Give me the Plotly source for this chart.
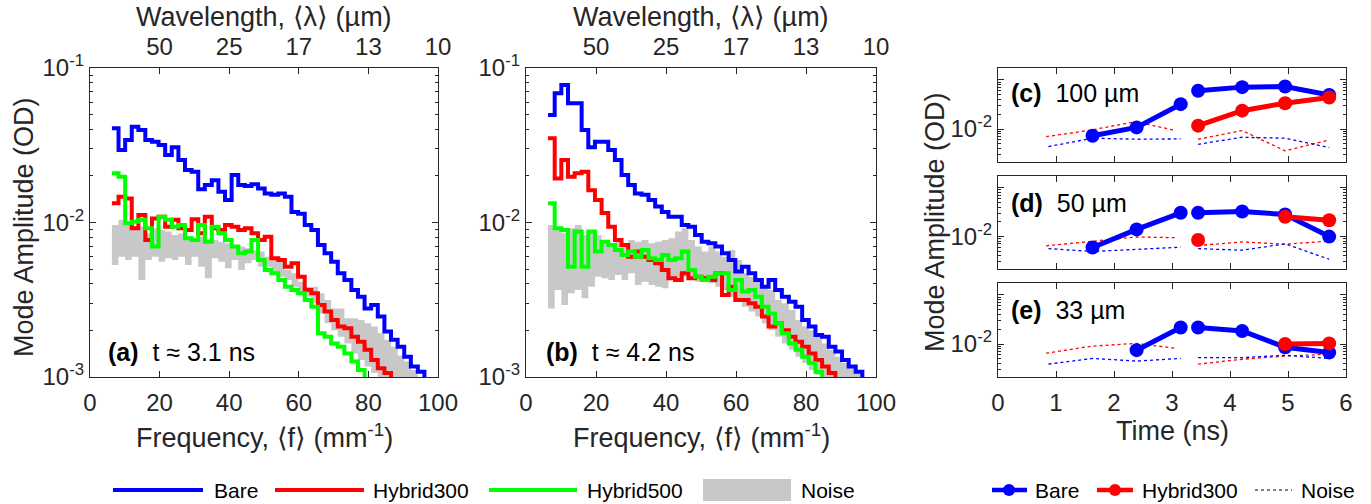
import plotly.graph_objects as go

W, H = 1371, 504
FONT = "Liberation Sans, Arial, sans-serif"
INK = "#262626"

# ---------------- data: spectra (left edges of frequency bins, mm^-1) ----------------
freq = [6.3, 8.2, 10.1, 12.0, 13.9, 15.9, 17.8, 19.7, 21.6, 23.5, 25.4, 27.3, 29.2, 31.1,
        33.0, 35.0, 36.9, 38.8, 40.7, 42.6, 44.5, 46.4, 48.3, 50.2, 52.1, 54.1, 56.0, 57.9,
        59.8, 61.7, 63.6, 65.5, 67.4, 69.3, 71.2, 73.1, 75.1, 77.0, 78.9, 80.8, 82.7, 84.6,
        86.5, 88.4, 90.3, 92.2, 94.2, 96.1, 98.0]

# panel (a), t ~ 3.1 ns
bare_a = [0.0407, 0.0295, 0.0342, 0.0417, 0.0397, 0.0342, 0.0333, 0.0317, 0.0273, 0.0307,
          0.0254, 0.0219, 0.0213, 0.0164, 0.0175, 0.0188, 0.0158, 0.0140, 0.0203, 0.0175,
          0.0172, 0.0177, 0.0166, 0.0154, 0.0151, 0.0154, 0.0147, 0.0117, 0.0114, 0.00963,
          0.00894, 0.00715, 0.00632, 0.00558, 0.00469, 0.00424, 0.00366, 0.00331, 0.00278,
          0.00292, 0.00246, 0.00197, 0.00174, 0.00157, 0.00135, 0.00117, 0.00108, 0.0008]
hyb300_a = [0.0133, 0.0147, 0.0143, 0.00917, 0.0112, 0.00770, 0.0106, 0.0109, 0.00940, 0.0104,
            0.00917, 0.00894, 0.0105, 0.00851, 0.0109, 0.00917, 0.00894, 0.00963, 0.00940,
            0.00894, 0.00917, 0.00851, 0.00770, 0.00810, 0.00586, 0.00572, 0.00518, 0.00544,
            0.00446, 0.00366, 0.00348, 0.00292, 0.00265, 0.00234, 0.00212, 0.00207, 0.00182,
            0.00169, 0.00150, 0.00129, 0.00114, 0.00106, 0.0008]
hyb500_a = [0.0208, 0.0198, 0.00988, 0.0101, 0.0104, 0.00917, 0.00698, 0.0109, 0.0104, 0.00940,
            0.00963, 0.00790, 0.00770, 0.00963, 0.00751, 0.00940, 0.00851, 0.00770, 0.00698,
            0.00632, 0.00648, 0.00770, 0.00572, 0.00493, 0.00469, 0.00424, 0.00384, 0.00366,
            0.00348, 0.00315, 0.00285, 0.00192, 0.00182, 0.00165, 0.00157, 0.00142, 0.00126,
            0.00111, 0.0008]
noise_hi_a = [0.00963, 0.0104, 0.00963, 0.00917, 0.00940, 0.00851, 0.00917, 0.00894, 0.00873,
              0.00830, 0.00851, 0.00810, 0.00770, 0.00810, 0.00751, 0.00770, 0.00751, 0.00733,
              0.00715, 0.00698, 0.00681, 0.00664, 0.00648, 0.00601, 0.00586, 0.00558, 0.00493,
              0.00469, 0.00414, 0.00384, 0.00384, 0.00348, 0.00315, 0.00278, 0.00278, 0.00240,
              0.00240, 0.00234, 0.00223, 0.00212, 0.00192, 0.00174, 0.00157, 0.00138, 0.00126,
              0.00111, 0.0008]
noise_lo_a = [0.00531, 0.00601, 0.00572, 0.00601, 0.00424, 0.00572, 0.00601, 0.00558, 0.00586,
              0.00572, 0.00601, 0.00531, 0.00601, 0.00518, 0.00435, 0.00586, 0.00558, 0.00505,
              0.00572, 0.00493, 0.00544, 0.00572, 0.00518, 0.00518, 0.00469, 0.00446, 0.00424,
              0.00384, 0.00348, 0.00331, 0.00300, 0.00258, 0.00223, 0.00201, 0.00182, 0.00165,
              0.00142, 0.00129, 0.00117, 0.00106, 0.0008]

# panel (b), t ~ 4.2 ns
bare_b = [0.0496, 0.0686, 0.0776, 0.0591, 0.0591, 0.0397, 0.0307, 0.0333, 0.0333, 0.0295,
          0.0254, 0.0203, 0.0175, 0.0154, 0.0151, 0.0140, 0.0127, 0.0117, 0.0109, 0.0109,
          0.00963, 0.00940, 0.00830, 0.00751, 0.00733, 0.00698, 0.00632, 0.00572, 0.00481,
          0.00518, 0.00469, 0.00424, 0.00384, 0.00424, 0.00366, 0.00331, 0.00307, 0.00285,
          0.00234, 0.00212, 0.00187, 0.00182, 0.00157, 0.00146, 0.00129, 0.00117, 0.00108, 0.0008]
hyb300_b = [0.0351, 0.0193, 0.0254, 0.0198, 0.0208, 0.0213, 0.0162, 0.0140, 0.0115, 0.00940,
            0.00770, 0.00715, 0.00601, 0.00648, 0.00601, 0.00572, 0.00544, 0.00493, 0.00435,
            0.00424, 0.00469, 0.00435, 0.00446, 0.00435, 0.00424, 0.00469, 0.00339, 0.00384,
            0.00315, 0.00315, 0.00300, 0.00285, 0.00246, 0.00212, 0.00223, 0.00201, 0.00182,
            0.00169, 0.00157, 0.00142, 0.00129, 0.00117, 0.00106, 0.0008]
hyb500_b = [0.0133, 0.00917, 0.00894, 0.00518, 0.00873, 0.00518, 0.00873, 0.00648, 0.00751,
            0.00715, 0.00664, 0.00616, 0.00648, 0.00601, 0.00664, 0.00586, 0.00572, 0.00616,
            0.00572, 0.00586, 0.00648, 0.00493, 0.00446, 0.00424, 0.00446, 0.00469, 0.00469,
            0.00366, 0.00424, 0.00357, 0.00366, 0.00331, 0.00285, 0.00258, 0.00223, 0.00192,
            0.00165, 0.00150, 0.00135, 0.00123, 0.00108, 0.0008]
noise_hi_b = [0.00963, 0.00940, 0.00851, 0.00917, 0.00963, 0.00830, 0.00894, 0.00830, 0.00751,
              0.00733, 0.00751, 0.00715, 0.00770, 0.00751, 0.00770, 0.00733, 0.00751, 0.00770,
              0.00790, 0.00873, 0.00917, 0.00770, 0.00698, 0.00648, 0.00698, 0.00648, 0.00601,
              0.00664, 0.00572, 0.00469, 0.00446, 0.00424, 0.00384, 0.00366, 0.00315, 0.00300,
              0.00271, 0.00234, 0.00212, 0.00201, 0.00182, 0.00165, 0.00150, 0.00135, 0.00123,
              0.00114, 0.00106, 0.0008]
noise_lo_b = [0.00278, 0.00366, 0.00292, 0.00348, 0.00366, 0.00323, 0.00384, 0.00446, 0.00435,
              0.00424, 0.00457, 0.00424, 0.00469, 0.00394, 0.00414, 0.00394, 0.00384, 0.00375,
              0.00446, 0.00424, 0.00446, 0.00424, 0.00414, 0.00414, 0.00404, 0.00384, 0.00366,
              0.00331, 0.00315, 0.00285, 0.00265, 0.00246, 0.00223, 0.00201, 0.00182, 0.00165,
              0.00150, 0.00135, 0.00123, 0.00111, 0.00103, 0.0008]

wl_tickvals = [20, 40, 60, 80, 100]
wl_ticktext = ["50", "25", "17", "13", "10"]

# ---------------- data: time histories ----------------
t_main = [1.63, 2.39, 3.15, None, 3.45, 4.21, 4.95, 5.71]
t_h300 = [3.45, 4.21, 4.95, 5.71]
t_noise_b = [0.87, 1.63, 2.39, 3.15, None, 3.45, 4.21, 4.95, 5.71]
t_noise_r = [0.83, 1.60, 2.37, 3.07, None, 3.45, 4.21, 4.95, 5.71]

bare_c = [0.0073, 0.0108, 0.032, None, 0.060, 0.071, 0.073, 0.049]
h300_c = [0.0117, 0.0236, 0.0335, 0.0437]
nb_c = [0.0044, 0.0065, 0.0062, 0.0063, None, 0.0049, 0.0068, 0.0065, 0.0042]
nr_c = [0.0070, 0.0095, 0.0141, 0.0093, None, 0.0062, 0.0093, 0.0036, 0.0060]

bare_d = [0.0059, 0.0139, 0.0305, None, 0.0305, 0.0324, 0.0281, 0.0099]
h300_d = [0.0084, None, 0.0252, 0.0215]
nb_d = [0.0056, 0.0049, 0.0054, 0.0060, None, 0.0056, 0.0052, 0.0070, 0.0034]
nr_d = [0.0064, 0.0080, 0.0097, 0.0094, None, 0.0065, 0.0077, 0.0069, 0.0080]

bare_e = [None, 0.0075, 0.0216, None, 0.0216, 0.0184, 0.0086, 0.0067]
h300_e = [None, None, 0.0100, 0.0103]
nb_e = [0.0039, 0.0051, 0.0045, 0.0051, None, 0.0053, 0.0053, 0.0059, 0.0051]
nr_e = [0.0065, 0.0090, 0.0103, 0.0082, None, 0.0039, 0.0049, 0.0057, 0.0062]

BLUE, RED, GREEN, GRAY = "#0000FF", "#FF0000", "#00FF00", "#C8C8C8"

fig = go.Figure()


def step_trace(vals, color, xa, ya, width=4):
    return go.Scatter(x=freq[:len(vals)], y=vals, mode="lines", line=dict(color=color, width=width, shape="hv"),
                      xaxis=xa, yaxis=ya, showlegend=False, hoverinfo="skip")


def noise_band(lo, hi, xa, ya):
    return [
        go.Scatter(x=freq[:len(lo)], y=lo, mode="lines", line=dict(width=0, shape="hv"),
                   xaxis=xa, yaxis=ya, showlegend=False, hoverinfo="skip"),
        go.Scatter(x=freq[:len(hi)], y=hi, mode="lines", line=dict(width=0, shape="hv"),
                   fill="tonexty", fillcolor=GRAY, xaxis=xa, yaxis=ya, showlegend=False, hoverinfo="skip"),
    ]


for xa, ya, lo, hi, b, r, g in [("x", "y", noise_lo_a, noise_hi_a, bare_a, hyb300_a, hyb500_a),
                                ("x2", "y2", noise_lo_b, noise_hi_b, bare_b, hyb300_b, hyb500_b)]:
    fig.add_traces(noise_band(lo, hi, xa, ya))
    fig.add_trace(step_trace(b, BLUE, xa, ya))
    fig.add_trace(step_trace(r, RED, xa, ya))
    fig.add_trace(step_trace(g, GREEN, xa, ya))

# dummy traces to register the top wavelength axes
fig.add_trace(go.Scatter(x=[None], y=[None], xaxis="x3", yaxis="y", showlegend=False))
fig.add_trace(go.Scatter(x=[None], y=[None], xaxis="x4", yaxis="y2", showlegend=False))

for xa, ya, b, r, nb, nr in [("x5", "y5", bare_c, h300_c, nb_c, nr_c),
                             ("x6", "y6", bare_d, h300_d, nb_d, nr_d),
                             ("x7", "y7", bare_e, h300_e, nb_e, nr_e)]:
    fig.add_trace(go.Scatter(x=t_noise_r, y=nr, mode="lines", line=dict(color=RED, width=1.3, dash="dot"),
                             xaxis=xa, yaxis=ya, showlegend=False, hoverinfo="skip"))
    fig.add_trace(go.Scatter(x=t_noise_b, y=nb, mode="lines", line=dict(color=BLUE, width=1.3, dash="dot"),
                             xaxis=xa, yaxis=ya, showlegend=False, hoverinfo="skip"))
    fig.add_trace(go.Scatter(x=t_main, y=b, mode="lines+markers", line=dict(color=BLUE, width=5),
                             marker=dict(size=14, color=BLUE), xaxis=xa, yaxis=ya, showlegend=False, hoverinfo="skip"))
    fig.add_trace(go.Scatter(x=t_h300, y=r, mode="lines+markers", line=dict(color=RED, width=5),
                             marker=dict(size=14, color=RED), xaxis=xa, yaxis=ya, showlegend=False, hoverinfo="skip"))

TICKFONT = dict(size=24, color=INK, family=FONT)
base = dict(showline=True, linecolor=INK, linewidth=1.3, ticks="inside", tickcolor=INK, ticklen=6,
            tickwidth=1, showgrid=False, zeroline=False, tickfont=TICKFONT, automargin=False)

minor_spec = [k * 10 ** e for e in (-3, -2) for k in range(2, 10)]
minor_rt = [k * 10 ** e for e in (-3, -2) for k in range(2, 10)]


def dom_x(a, b):
    return [a / W, b / W]


def dom_y(top, bot):
    return [1 - bot / H, 1 - top / H]


spec_y = dict(base, type="log", range=[-3, -1], mirror="ticks", tickvals=[1e-3, 1e-2, 1e-1],
              ticktext=["10<sup>-3</sup>", "10<sup>-2</sup>", "10<sup>-1</sup>"],
              minor=dict(tickvals=minor_spec, ticks="inside", ticklen=3, tickcolor=INK, showgrid=False))
spec_x = dict(base, range=[0, 100], mirror="ticks", tickvals=[0, 20, 40, 60, 80, 100], ticklabelstandoff=4)
top_x = dict(showline=False, showgrid=False, zeroline=False, range=[0, 100], side="top", ticks="",
             tickvals=wl_tickvals, ticktext=wl_ticktext, tickfont=TICKFONT, ticklabelstandoff=7,
             automargin=False)

rt_y = dict(base, type="log", range=[-2.67, -0.76], mirror="ticks", tickvals=[1e-2, 1e-1],
            ticktext=["10<sup>-2</sup>", ""],
            minor=dict(tickvals=minor_rt, ticks="inside", ticklen=3, tickcolor=INK, showgrid=False))
rt_x = dict(base, range=[0, 6], mirror="ticks", tickvals=[0, 1, 2, 3, 4, 5, 6], ticklabelstandoff=4)

fig.update_layout(
    template="none",
    width=W, height=504, margin=dict(l=0, r=0, t=0, b=0, pad=0, autoexpand=False),
    paper_bgcolor="white", plot_bgcolor="white", showlegend=False,
    font=dict(family=FONT, color=INK),
    xaxis=dict(spec_x, domain=dom_x(90, 438), anchor="y"),
    yaxis=dict(spec_y, domain=dom_y(68, 377), anchor="x"),
    xaxis2=dict(spec_x, domain=dom_x(526, 876), anchor="y2"),
    yaxis2=dict(spec_y, domain=dom_y(68, 377), anchor="x2"),
    xaxis3=dict(top_x, overlaying="x", anchor="y"),
    xaxis4=dict(top_x, overlaying="x2", anchor="y2"),
    xaxis5=dict(rt_x, domain=dom_x(998, 1346), anchor="y5", showticklabels=False),
    yaxis5=dict(rt_y, domain=dom_y(68, 162), anchor="x5"),
    xaxis6=dict(rt_x, domain=dom_x(998, 1346), anchor="y6", showticklabels=False),
    yaxis6=dict(rt_y, domain=dom_y(176, 269), anchor="x6"),
    xaxis7=dict(rt_x, domain=dom_x(998, 1346), anchor="y7"),
    yaxis7=dict(rt_y, domain=dom_y(283, 377), anchor="x7"),
)


def ann(text, x, y, size, xanchor="center", angle=0, color=INK):
    return dict(text=text, x=x / W, y=1 - y / H, xref="paper", yref="paper", showarrow=False,
                font=dict(size=size, color=color, family=FONT), xanchor=xanchor, yanchor="middle",
                textangle=angle)


anns = [
    ann("Wavelength, ⟨λ⟩ (µm)", 264, 17, 27),
    ann("Wavelength, ⟨λ⟩ (µm)", 701, 17, 27),
    ann("Frequency, ⟨f⟩ (mm<sup>-1</sup>)", 264, 436, 27),
    ann("Frequency, ⟨f⟩ (mm<sup>-1</sup>)", 701, 436, 27),
    ann("Mode Amplitude (OD)", 24, 227, 27, angle=-90),
    ann("Mode Amplitude (OD)", 935, 222, 27, angle=-90),
    ann("Time (ns)", 1172, 431, 27),
    ann("<b>(a)</b>  t ≈ 3.1 ns", 106, 352, 25, xanchor="left", color="black"),
    ann("<b>(b)</b>  t ≈ 4.2 ns", 544, 352, 25, xanchor="left", color="black"),
    ann("<b>(c)</b>  100 µm", 1009, 93, 25, xanchor="left", color="black"),
    ann("<b>(d)</b>  50 µm", 1009, 203, 25, xanchor="left", color="black"),
    ann("<b>(e)</b>  33 µm", 1009, 310, 25, xanchor="left", color="black"),
    # legends
    ann("Bare", 212, 490, 21, xanchor="left", color="black"),
    ann("Hybrid300", 371, 490, 21, xanchor="left", color="black"),
    ann("Hybrid500", 585, 490, 21, xanchor="left", color="black"),
    ann("Noise", 799, 490, 21, xanchor="left", color="black"),
    ann("Bare", 1033, 490, 21, xanchor="left", color="black"),
    ann("Hybrid300", 1140, 490, 21, xanchor="left", color="black"),
    ann("Noise", 1299, 490, 21, xanchor="left", color="black"),
]


def pl(x0, x1, y, color, width, dash="solid"):
    return dict(type="line", xref="paper", yref="paper", x0=x0 / W, x1=x1 / W, y0=1 - y / H, y1=1 - y / H,
                line=dict(color=color, width=width, dash=dash))


def circ(cx, cy, r, color):
    return dict(type="circle", xref="paper", yref="paper", x0=(cx - r) / W, x1=(cx + r) / W,
                y0=1 - (cy + r) / H, y1=1 - (cy - r) / H, fillcolor=color, line=dict(color=color, width=0))


shapes = [
    pl(113, 203, 490, BLUE, 4), pl(275, 364, 490, RED, 4), pl(489, 577, 490, GREEN, 4),
    dict(type="rect", xref="paper", yref="paper", x0=703 / W, x1=791 / W, y0=1 - 501 / H, y1=1 - 479 / H,
         fillcolor=GRAY, line=dict(width=0)),
    pl(992, 1027, 490, BLUE, 4.5), circ(1009, 490, 6, BLUE),
    pl(1097, 1133, 490, RED, 4.5), circ(1115, 490, 6, RED),
    pl(1255, 1292, 490, "black", 1.2, "dot"),
]

fig.update_layout(annotations=anns, shapes=shapes)
fig.write_html("out.html", config={"displayModeBar": False},
               post_script="document.body.style.margin='0';document.body.style.padding='0';"
                           "document.body.style.overflow='hidden';")
